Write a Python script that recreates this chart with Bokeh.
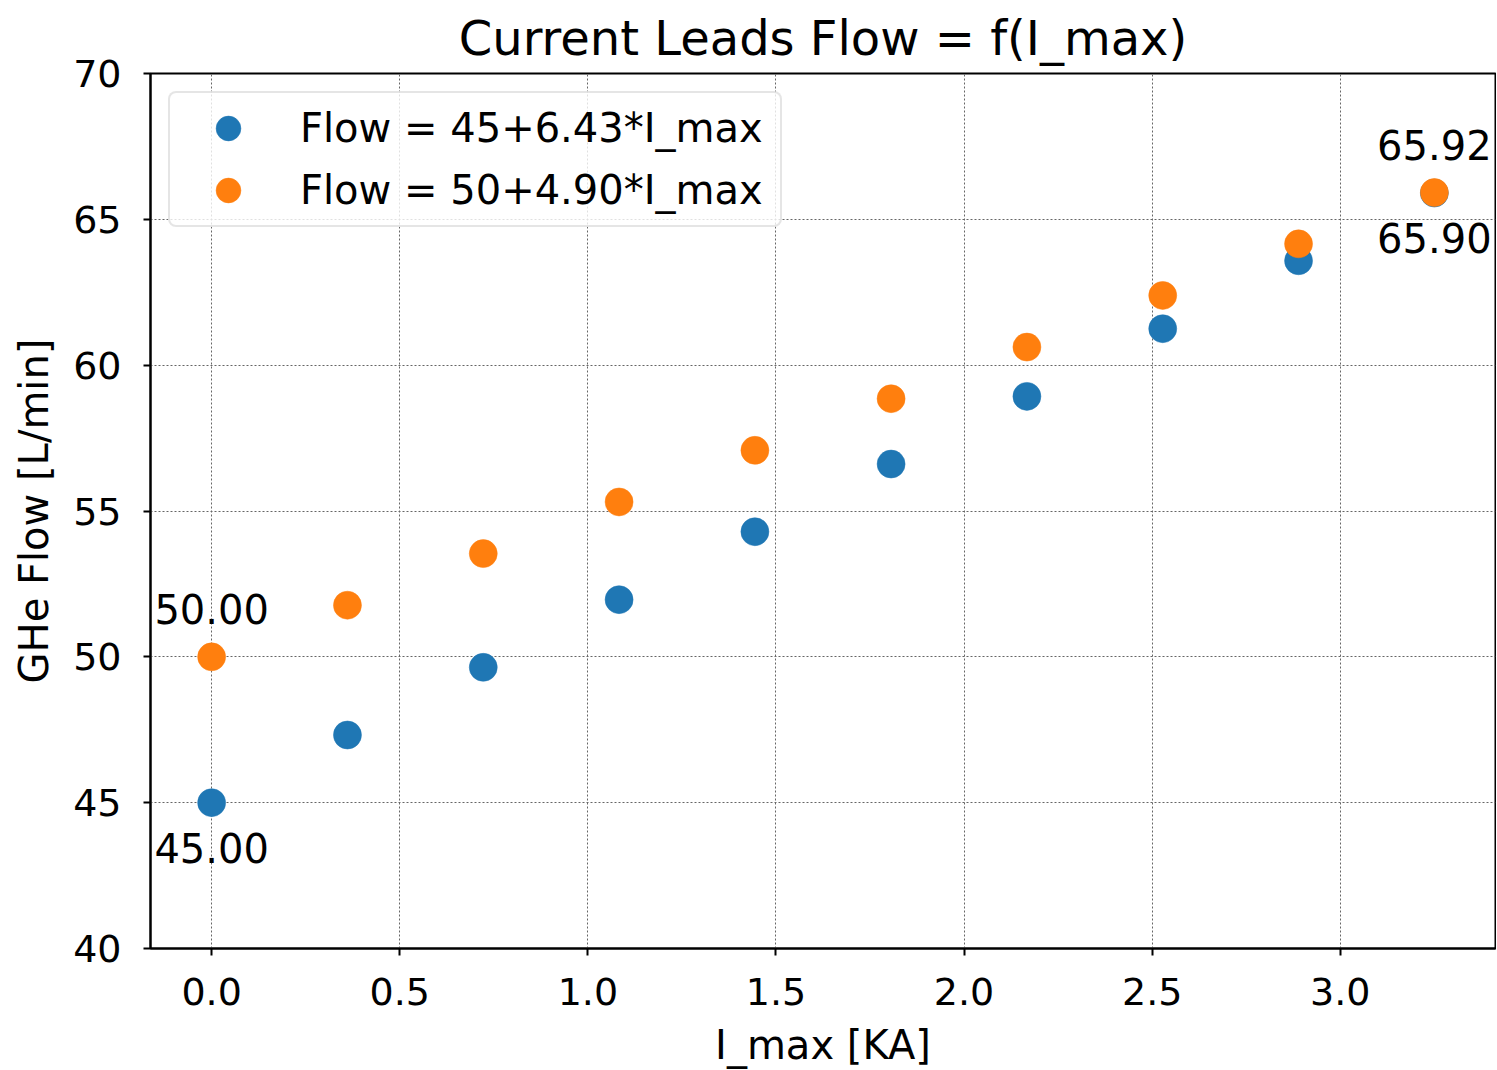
from bokeh.plotting import figure
from bokeh.models import Range1d, FixedTicker, Legend, LegendItem, ColumnDataSource
from bokeh.embed import file_html
from bokeh.resources import INLINE
from bokeh.core.properties import value

# ---- data ----
i_max = [0.0, 0.361, 0.722, 1.083, 1.444, 1.806, 2.167, 2.528, 2.889, 3.25]
flow_a = [45.00, 47.32, 49.64, 51.96, 54.29, 56.61, 58.93, 61.25, 63.58, 65.90]
flow_b = [50.00, 51.77, 53.54, 55.31, 57.08, 58.85, 60.62, 62.39, 64.16, 65.92]
series_labels = ["Flow = 45+6.43*I_max", "Flow = 50+4.90*I_max"]
x_ticks = [0.0, 0.5, 1.0, 1.5, 2.0, 2.5, 3.0]
y_ticks = [40, 45, 50, 55, 60, 65, 70]
title_text = "Current Leads Flow = f(I_max)"
x_label = "I_max [KA]"
y_label = "GHe Flow [L/min]"

BLUE = "#1f77b4"
ORANGE = "#ff7f0e"
FONT = "DejaVu Sans"

p = figure(width=1496, height=1070, output_backend="svg", toolbar_location=None,
           x_range=Range1d(-0.1625, 3.4125), y_range=Range1d(40, 70),
           min_border_left=150, min_border_right=1, min_border_top=73,
           min_border_bottom=122)

p.title.text = title_text
p.title.align = "center"
p.title.vertical_align = "bottom"
p.title.text_font = FONT
p.title.text_font_size = "48px"
p.title.text_font_style = "normal"
p.title.text_color = "black"
p.title.standoff = 15

p.outline_line_color = "black"
p.outline_line_width = 2
p.outline_line_alpha = 1

for ax in (p.xaxis[0], p.yaxis[0]):
    ax.axis_line_width = 2
    ax.axis_line_color = "black"
    ax.major_tick_line_width = 2
    ax.major_tick_in = 0
    ax.major_tick_out = 7
    ax.minor_tick_line_color = None
    ax.major_label_text_font = FONT
    ax.major_label_text_font_size = "38px"
    ax.major_label_text_color = "black"
    ax.axis_label_text_font = FONT
    ax.axis_label_text_font_size = "40px"
    ax.axis_label_text_font_style = "normal"
    ax.axis_label_text_color = "black"

p.xaxis.ticker = FixedTicker(ticks=x_ticks)
p.xaxis.major_label_overrides = {t: f"{t:.1f}" for t in x_ticks}
p.yaxis.ticker = FixedTicker(ticks=y_ticks)
p.xaxis.axis_label = x_label
p.yaxis.axis_label = y_label
p.xaxis.major_label_standoff = 22
p.yaxis.major_label_standoff = 22
p.xaxis.axis_label_standoff = 14
p.yaxis.axis_label_standoff = 13

p.xgrid.grid_line_color = "#666666"
p.ygrid.grid_line_color = "#666666"
p.xgrid.grid_line_dash = "2 2"
p.ygrid.grid_line_dash = "2 2"
p.xgrid.grid_line_width = 1
p.ygrid.grid_line_width = 1

src_a = ColumnDataSource(dict(x=i_max, y=flow_a))
src_b = ColumnDataSource(dict(x=i_max, y=flow_b))
ra = p.scatter("x", "y", source=src_a, size=28, fill_color=BLUE, line_color=BLUE, line_width=0.5)
rb = p.scatter("x", "y", source=src_b, size=28, fill_color=ORANGE, line_color=ORANGE, line_width=0.5)

# annotations of the first and last values
below = ColumnDataSource(dict(x=[i_max[0], i_max[-1]], y=[flow_a[0], flow_a[-1]],
                              t=[f"{flow_a[0]:.2f}", f"{flow_a[-1]:.2f}"]))
above = ColumnDataSource(dict(x=[i_max[0], i_max[-1]], y=[flow_b[0], flow_b[-1]],
                              t=[f"{flow_b[0]:.2f}", f"{flow_b[-1]:.2f}"]))
p.text("x", "y", text="t", source=below, y_offset=45, text_align="center",
       text_baseline="middle", text_font=value(FONT), text_font_size=value("40px"),
       text_color="black")
p.text("x", "y", text="t", source=above, y_offset=-48, text_align="center",
       text_baseline="middle", text_font=value(FONT), text_font_size=value("40px"),
       text_color="black")

legend = Legend(items=[LegendItem(label=series_labels[0], renderers=[ra]),
                       LegendItem(label=series_labels[1], renderers=[rb])],
                location="top_left", margin=18, padding=4, spacing=0,
                glyph_height=62, glyph_width=108, label_standoff=18,
                label_width=476, label_height=40,
                label_text_font=FONT, label_text_font_size="40px",
                label_text_color="black",
                border_line_color="#cccccc", border_line_width=2,
                border_radius=8, background_fill_color="white",
                background_fill_alpha=0.8)
p.add_layout(legend)

open("out.html", "w").write(file_html(p, INLINE))
